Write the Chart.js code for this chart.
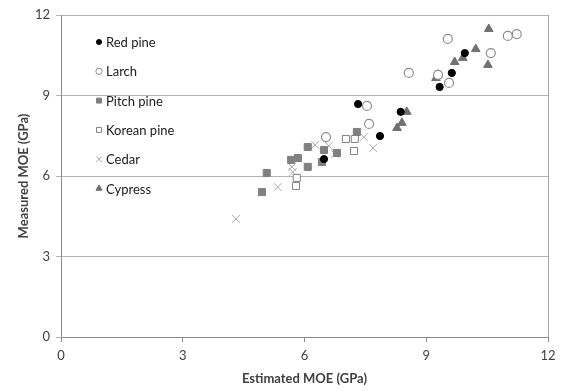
<!DOCTYPE html>
<html>
<head>
<meta charset="utf-8">
<script src="https://cdn.jsdelivr.net/npm/chart.js@4/dist/chart.umd.min.js"></script>
<style>
  html, body { margin: 0; padding: 0; background: #fff; }
</style>
</head>
<body>
<canvas id="moeChart" width="565" height="391"></canvas>
<script>
"use strict";
// ========== DATA ========== //
// each point is [estimated MOE, measured MOE] in GPa
const redPine = [[7.32, 8.68], [8.37, 8.39], [7.86, 7.49], [6.48, 6.63], [9.33, 9.32], [9.63, 9.84], [9.95, 10.58]];
const larch = [[7.54, 8.61], [7.59, 7.94], [6.53, 7.45], [8.57, 9.84], [9.56, 9.47], [9.29, 9.77], [9.53, 11.11], [10.59, 10.58], [11.01, 11.22], [11.23, 11.29]];
const pitchPine = [[6.08, 7.08], [5.67, 6.6], [5.84, 6.67], [6.08, 6.34], [6.43, 6.52], [5.07, 6.11], [4.95, 5.4], [6.48, 6.97], [6.8, 6.86], [7.29, 7.64]];
const koreanPine = [[5.81, 5.93], [5.79, 5.63], [7.02, 7.38], [7.24, 7.38], [7.22, 6.93]];
const cedar = [[4.31, 4.4], [5.34, 5.59], [5.69, 6.34], [5.71, 6.15], [6.26, 7.16], [6.6, 7.12], [6.75, 6.82], [7.46, 7.45], [7.69, 7.04]];
const cypress = [[8.52, 8.39], [8.4, 7.98], [8.28, 7.79], [9.29, 9.77], [9.24, 9.65], [9.7, 10.25], [10.54, 11.48], [10.22, 10.73], [10.52, 10.14], [9.9, 10.4]];

const seriesNames = ["Red pine", "Larch", "Pitch pine", "Korean pine", "Cedar", "Cypress"];
const axisTicks = [0, 3, 6, 9, 12];

// ========== HELPERS ========== //
function toPoints(pairs) {
  return pairs.map(p => ({ x: p[0], y: p[1] }));
}

// legend drawn inside the plot area, top left, one item per row
const innerLegend = {
  id: "innerLegend",
  beforeDatasetsDraw(chart) {
    // right border of the plot area
    const { ctx, chartArea } = chart;
    ctx.save();
    ctx.strokeStyle = "#a6a6a6";
    ctx.lineWidth = 1;
    ctx.beginPath();
    ctx.moveTo(chartArea.right + 0.5, chartArea.top);
    ctx.lineTo(chartArea.right + 0.5, chartArea.bottom);
    ctx.stroke();
    ctx.restore();
  },
  afterDraw(chart) {
    const { ctx, chartArea } = chart;
    ctx.save();
    ctx.font = "13px Lato";
    ctx.textBaseline = "middle";
    chart.data.datasets.forEach((ds, i) => {
      const x = chartArea.left + 38;
      const y = chartArea.top + 27 + i * 29.3;
      ctx.fillStyle = ds.backgroundColor;
      ctx.strokeStyle = ds.borderColor;
      ctx.lineWidth = 1;
      Chart.helpers.drawPoint(ctx, { pointStyle: ds.pointStyle, radius: ds.pointRadius * 0.7, borderWidth: 1, rotation: 0 }, x, y);
      ctx.fillStyle = "#1a1a1a";
      ctx.fillText(ds.label, x + 7, y + 1);
    });
    ctx.restore();
  }
};

// ========== CHART ========== //
const ctx = document.querySelector("#moeChart");
const moeChart = new Chart(ctx, {
  type: "scatter",
  data: {
    datasets: [
      { label: seriesNames[0], data: toPoints(redPine), pointStyle: "circle", pointRadius: 3.6, backgroundColor: "#000000", borderColor: "#000000", borderWidth: 1 },
      { label: seriesNames[1], data: toPoints(larch), pointStyle: "circle", pointRadius: 4.5, backgroundColor: "#ffffff", borderColor: "#8c8c8c", borderWidth: 1.2 },
      { label: seriesNames[2], data: toPoints(pitchPine), pointStyle: "rect", pointRadius: 5, backgroundColor: "#808080", borderColor: "#808080", borderWidth: 1 },
      { label: seriesNames[3], data: toPoints(koreanPine), pointStyle: "rect", pointRadius: 5, backgroundColor: "#ffffff", borderColor: "#808080", borderWidth: 1 },
      { label: seriesNames[4], data: toPoints(cedar), pointStyle: "crossRot", pointRadius: 5.5, backgroundColor: "#a6a6a6", borderColor: "#a6a6a6", borderWidth: 1 },
      { label: seriesNames[5], data: toPoints(cypress), pointStyle: "triangle", pointRadius: 5, backgroundColor: "#707070", borderColor: "#707070", borderWidth: 1 }
    ]
  },
  options: {
    responsive: false,
    animation: false,
    layout: { padding: { top: 15, right: 17, left: 0, bottom: 0 } },
    plugins: {
      legend: { display: false },
      tooltip: { enabled: false }
    },
    scales: {
      x: {
        type: "linear",
        min: axisTicks[0],
        max: axisTicks[axisTicks.length - 1],
        afterBuildTicks: scale => { scale.ticks = axisTicks.map(v => ({ value: v })); },
        afterFit: scale => { scale.height = 54; },
        grid: { drawOnChartArea: false, tickLength: 5, color: "#8c8c8c" },
        border: { color: "#8c8c8c" },
        ticks: { color: "#404040", font: { family: "Lato", size: 13 }, padding: 6 },
        title: { display: true, text: "Estimated MOE (GPa)", color: "#404040", font: { family: "Lato", size: 13, weight: "bold" }, padding: { top: 3 } }
      },
      y: {
        type: "linear",
        min: axisTicks[0],
        max: axisTicks[axisTicks.length - 1],
        afterBuildTicks: scale => { scale.ticks = axisTicks.map(v => ({ value: v })); },
        afterFit: scale => { scale.width = 61; },
        grid: { tickLength: 5, color: "#b3b3b3" },
        border: { color: "#8c8c8c" },
        ticks: { color: "#404040", font: { family: "Lato", size: 13 }, padding: 6 },
        title: { display: true, text: "Measured MOE (GPa)", color: "#404040", font: { family: "Lato", size: 13, weight: "bold" }, padding: { top: 16, bottom: 0 } }
      }
    }
  },
  plugins: [innerLegend]
});
</script>
</body>
</html>
